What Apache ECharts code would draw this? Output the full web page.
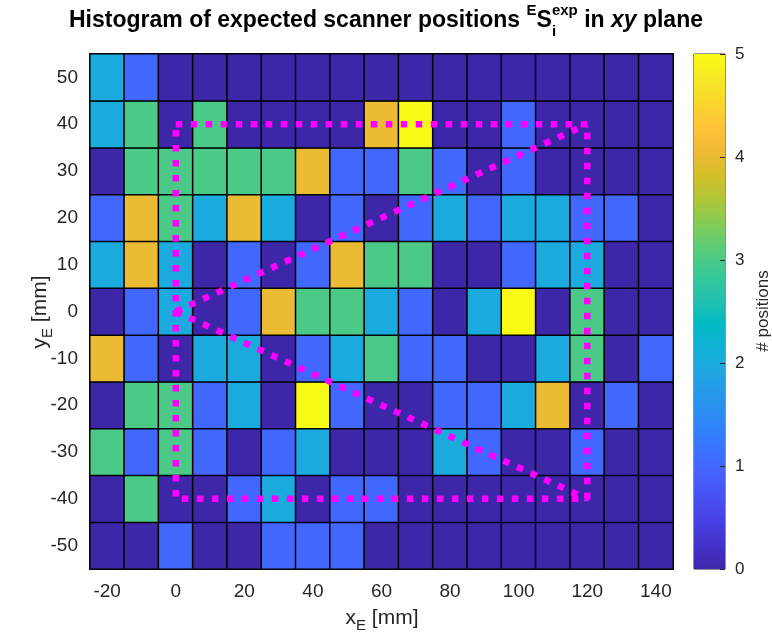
<!DOCTYPE html>
<html>
<head>
<meta charset="utf-8">
<script src="https://cdn.jsdelivr.net/npm/echarts@6/dist/echarts.min.js"></script>
<style>
  html, body { margin: 0; padding: 0; background: #fff; }
  #chart { width: 772px; height: 635px; }
</style>
</head>
<body>
<div id="chart"></div>
<script>
// Bin centres of the 2-D histogram (mm)
const xBins = ['-20', '-10', '0', '10', '20', '30', '40', '50', '60', '70', '80', '90', '100', '110', '120', '130', '140'];
const yBins = ['-50', '-40', '-30', '-20', '-10', '0', '10', '20', '30', '40', '50'];

// Number of expected scanner positions per bin, one array per y bin (x from -20 to 140)
const countsY50  = [2, 1, 0, 0, 0, 0, 0, 0, 0, 0, 0, 0, 0, 0, 0, 0, 0];
const countsY40  = [2, 3, 0, 3, 0, 0, 0, 0, 4, 5, 0, 0, 1, 0, 0, 0, 0];
const countsY30  = [0, 3, 3, 3, 3, 3, 4, 1, 1, 3, 1, 0, 1, 0, 0, 0, 0];
const countsY20  = [1, 4, 3, 2, 4, 2, 0, 1, 0, 1, 2, 1, 2, 2, 1, 1, 0];
const countsY10  = [2, 4, 2, 0, 1, 0, 1, 4, 3, 3, 0, 0, 1, 2, 2, 0, 0];
const countsY0   = [0, 1, 2, 0, 1, 4, 3, 3, 2, 1, 0, 2, 5, 0, 3, 0, 0];
const countsYm10 = [4, 1, 0, 2, 2, 0, 1, 2, 3, 1, 1, 0, 0, 2, 3, 0, 1];
const countsYm20 = [0, 3, 3, 1, 2, 0, 5, 1, 0, 0, 1, 1, 2, 4, 0, 1, 0];
const countsYm30 = [3, 1, 3, 1, 0, 1, 2, 0, 0, 0, 2, 1, 0, 0, 1, 0, 0];
const countsYm40 = [0, 3, 0, 0, 1, 2, 0, 1, 1, 0, 0, 0, 0, 0, 0, 0, 0];
const countsYm50 = [0, 0, 1, 0, 0, 1, 1, 1, 0, 0, 0, 0, 0, 0, 0, 0, 0];

// Colour scale range and its tick labels
const colorMin = 0;
const colorMax = 5;
const colorTicks = [0, 1, 2, 3, 4, 5];

// Planned scanner trajectory (mm): outer frame and the two diagonals from the origin
const pathFrame = [[0, 40], [120, 40], [120, -40], [0, -40], [0, 40]];
const pathUpper = [[0, 0], [120, 40]];
const pathLower = [[0, 0], [120, -40]];

// ---------------------------------------------------------------------------
const FAMILY = '"Liberation Sans", Arial, Helvetica, sans-serif';
const TEXT = '#262626';

// parula colormap, sampled every third entry
const parula = [
  '#3e26a8', '#4332cb', '#4741e5', '#4852f4', '#4563fd', '#3875fe', '#2e87f7', '#2796eb',
  '#20a5e3', '#12b1d6', '#02bac3', '#24c1ae', '#37c897', '#57cc7a', '#81cc59', '#abc739',
  '#d1bf27', '#f0ba36', '#fec338', '#fad62d', '#f5e924', '#f9fb15'
];

const rowsBottomUp = [countsYm50, countsYm40, countsYm30, countsYm20, countsYm10, countsY0,
                      countsY10, countsY20, countsY30, countsY40, countsY50];
const heatData = [];
rowsBottomUp.forEach((row, yi) => row.forEach((v, xi) => heatData.push([xi, yi, v])));

// Mixed-size label (super/subscripts) laid out piece by piece around a baseline
const measureCtx = document.createElement('canvas').getContext('2d');
function fontOf(p) {
  return (p.italic ? 'italic ' : '') + (p.bold ? 'bold ' : '') + p.size + 'px ' + FAMILY;
}
function widthOf(text, font) { measureCtx.font = font; return measureCtx.measureText(text).width; }
function compositeLabel(pieces, x, y, rotation, color) {
  const items = [];
  let total = 0;
  pieces.forEach(p => {
    const w = widthOf(p.text, fontOf(p));
    let adv = w;
    items.push({ p, off: total });
    if (p.below) {
      items.push({ p: p.below, off: total });
      adv = Math.max(w, widthOf(p.below.text, fontOf(p.below)));
    }
    total += adv;
  });
  const children = items.map(it => ({
    type: 'text',
    x: it.off - total / 2,
    y: (it.p.shift || 0) - 0.345 * it.p.size,
    style: { text: it.p.text, font: fontOf(it.p), fill: color, align: 'left', verticalAlign: 'middle' }
  }));
  return { type: 'group', x, y, rotation: rotation || 0, children, silent: true };
}

const titlePieces = [
  { text: 'Histogram of expected scanner positions ', size: 23, bold: true },
  { text: 'E', size: 15, bold: true, shift: -13 },
  { text: 'S', size: 23, bold: true },
  { text: 'exp', size: 15, bold: true, shift: -13, below: { text: 'i', size: 15, bold: true, shift: 8 } },
  { text: ' in ', size: 23, bold: true },
  { text: 'xy', size: 23, bold: true, italic: true },
  { text: ' plane', size: 23, bold: true }
];
const xNamePieces = [
  { text: 'x', size: 21 }, { text: 'E', size: 15, shift: 6 }, { text: ' [mm]', size: 21 }
];
const yNamePieces = [
  { text: 'y', size: 21 }, { text: 'E', size: 15, shift: 6 }, { text: ' [mm]', size: 21 }
];

const gradient = {
  type: 'linear', x: 0, y: 1, x2: 0, y2: 0,
  colorStops: parula.map((c, i) => ({ offset: i / (parula.length - 1), color: c }))
};

const plot = { left: 90, top: 54, width: 583, height: 515 };
const bar = { left: 694, top: 54, width: 31, height: 515 };
const pathStyle = { color: '#ff00ff', width: 6.5, type: [6.5, 8.5], cap: 'butt' };

const chart = echarts.init(document.getElementById('chart'), null, { renderer: 'canvas' });
chart.setOption({
  animation: false,
  backgroundColor: '#fff',
  textStyle: { fontFamily: FAMILY },
  grid: [
    Object.assign({ show: true, borderColor: TEXT, borderWidth: 1, backgroundColor: 'transparent' }, plot),
    Object.assign({}, plot),
    Object.assign({ show: true, borderColor: TEXT, borderWidth: 1, backgroundColor: 'transparent' }, bar)
  ],
  xAxis: [
    {
      gridIndex: 0, type: 'category', data: xBins,
      axisLine: { show: true, lineStyle: { color: TEXT } },
      axisTick: { show: true, inside: true, length: 5, interval: 1, alignWithLabel: true, lineStyle: { color: TEXT } },
      axisLabel: { interval: 1, fontSize: 19, color: TEXT, margin: 13 },
      splitLine: { show: false }
    },
    { gridIndex: 1, type: 'value', min: -25, max: 145, show: false },
    { gridIndex: 2, type: 'category', data: [''], show: false }
  ],
  yAxis: [
    {
      gridIndex: 0, type: 'category', data: yBins,
      axisLine: { show: true, lineStyle: { color: TEXT } },
      axisTick: { show: true, inside: true, length: 5, alignWithLabel: true, lineStyle: { color: TEXT } },
      axisLabel: { fontSize: 19, color: TEXT, margin: 12 },
      splitLine: { show: false }
    },
    { gridIndex: 1, type: 'value', min: -55, max: 55, show: false },
    {
      gridIndex: 2, type: 'value', min: colorMin, max: colorMax, interval: 1, position: 'right', z: 5,
      axisLine: { show: false },
      axisTick: { show: true, inside: true, length: 5, lineStyle: { color: TEXT } },
      axisLabel: { fontSize: 17, color: TEXT, margin: 10, formatter: v => colorTicks.includes(v) ? String(v) : '' },
      splitLine: { show: false }
    }
  ],
  visualMap: {
    show: false, type: 'continuous', min: colorMin, max: colorMax, dimension: 2, seriesIndex: 0,
    inRange: { color: parula }
  },
  graphic: [
    compositeLabel(titlePieces, 386, 29, 0, '#000'),
    compositeLabel(xNamePieces, 382, 625, 0, TEXT),
    compositeLabel(yNamePieces, 47, 312, Math.PI / 2, TEXT),
    {
      type: 'text', x: 763, y: 311, rotation: Math.PI / 2, silent: true,
      style: { text: '# positions', font: '17px ' + FAMILY, fill: TEXT, align: 'center', verticalAlign: 'middle' }
    }
  ],
  series: [
    {
      type: 'heatmap', xAxisIndex: 0, yAxisIndex: 0, data: heatData,
      itemStyle: { borderColor: '#000', borderWidth: 1.5 },
      emphasis: { disabled: true }, silent: true
    },
    { type: 'line', xAxisIndex: 1, yAxisIndex: 1, data: pathFrame, symbol: 'none', z: 6, silent: true, lineStyle: pathStyle },
    { type: 'line', xAxisIndex: 1, yAxisIndex: 1, data: pathUpper, symbol: 'none', z: 6, silent: true, lineStyle: pathStyle },
    { type: 'line', xAxisIndex: 1, yAxisIndex: 1, data: pathLower, symbol: 'none', z: 6, silent: true, lineStyle: pathStyle },
    {
      type: 'bar', xAxisIndex: 2, yAxisIndex: 2, data: [colorMax], barWidth: '100%', silent: true,
      itemStyle: { color: gradient }
    }
  ]
});
</script>
</body>
</html>
